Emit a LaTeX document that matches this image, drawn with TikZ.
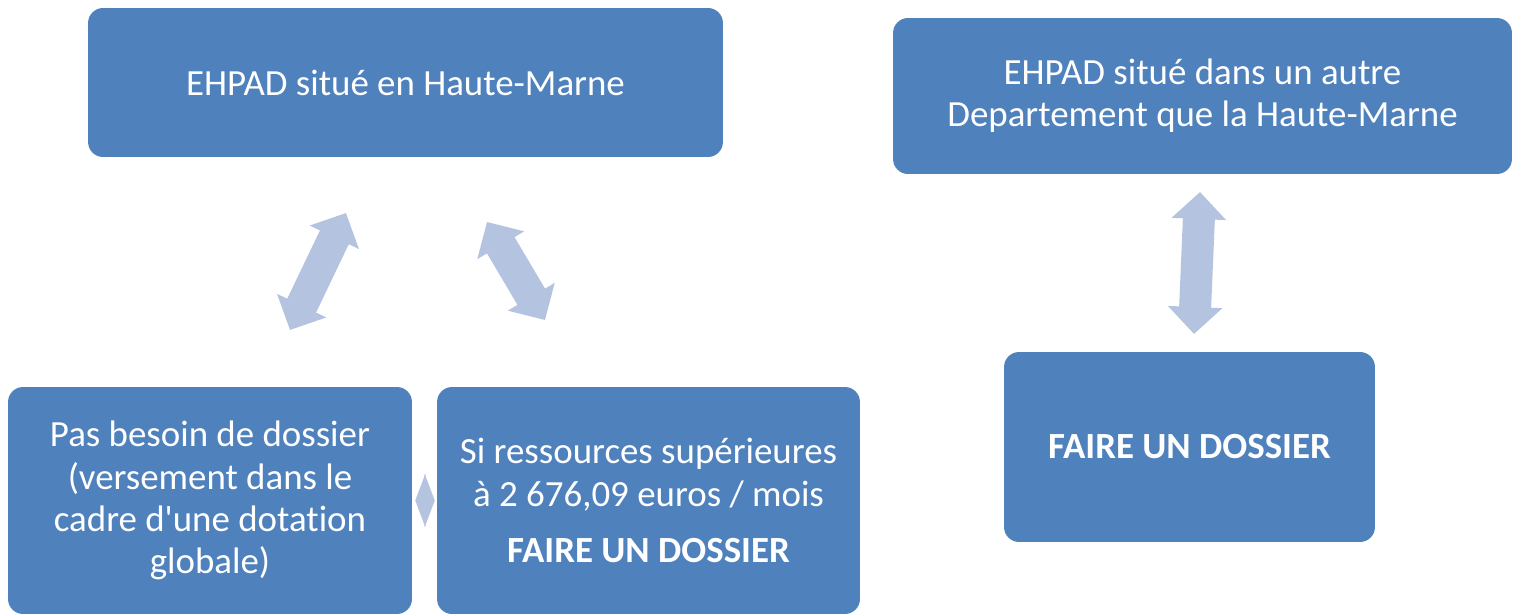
\documentclass[tikz,border=0pt]{standalone}
\usepackage{fontspec}
\setmainfont[Ligatures={NoCommon}]{Carlito}
\definecolor{boxblau}{HTML}{4F81BD}
\definecolor{pfeilblau}{HTML}{B4C3DF}
\usetikzlibrary{arrows.meta, shapes, positioning, calc}

\begin{document}
\begin{tikzpicture}[
    x=0.02cm, y=-0.02cm,
    box/.style={rectangle, rounded corners=0.3cm, fill=boxblau,
                text=white, inner sep=0pt, align=center,
                font=\fontsize{21}{24}\selectfont},
    dpfeil/.style={pfeilblau, line width=0.64cm,
                {Triangle[length=0.54cm, width=1.06cm]}-{Triangle[length=0.54cm, width=1.06cm]}},
    raute/.style={pfeilblau, line width=0.1pt,
                {Triangle[length=0.2cm, width=1.06cm]}-{Triangle[length=0.2cm, width=1.06cm]}}
  ]
  \useasboundingbox (0,0) rectangle (1515,615);
  % Kaesten
  \node[box, minimum width=12.7cm, minimum height=2.98cm] (hm) at (405.5,82.5)
    {EHPAD situé en Haute-Marne};
  \node[box, minimum width=12.38cm, minimum height=3.12cm] (autre) at (1202.5,96)
    {EHPAD situé dans un autre\\ Departement que la Haute-Marne};
  \node[box, minimum width=8.08cm, minimum height=4.54cm] (pas) at (210,500.5)
    {Pas besoin de dossier\\ (versement dans le\\ cadre d\textquotesingle une dotation\\ globale)};
  \node[box, minimum width=8.46cm, minimum height=4.54cm] (si) at (648.5,500.5)
    {Si ressources supérieures\\ à 2 676,09 euros / mois\\[8pt] \textbf{FAIRE UN DOSSIER}};
  \node[box, minimum width=7.42cm, minimum height=3.8cm] (faire) at (1189.5,447)
    {\textbf{FAIRE UN DOSSIER}};
  % Pfeilenden
  \coordinate (a1) at (290,330);
  \coordinate (b1) at (346,213);
  \coordinate (a2) at (487,222);
  \coordinate (b2) at (545,320);
  \coordinate (a3) at (1200,192);
  \coordinate (b3) at (1194,334);
  % Pfeile
  \draw[dpfeil] (a1) -- (b1);
  \draw[dpfeil] (a2) -- (b2);
  \draw[dpfeil] (a3) -- (b3);
  \draw[raute, shorten <=0.06cm, shorten >=0.04cm] (pas.east) -- (si.west);
\end{tikzpicture}
\end{document}
